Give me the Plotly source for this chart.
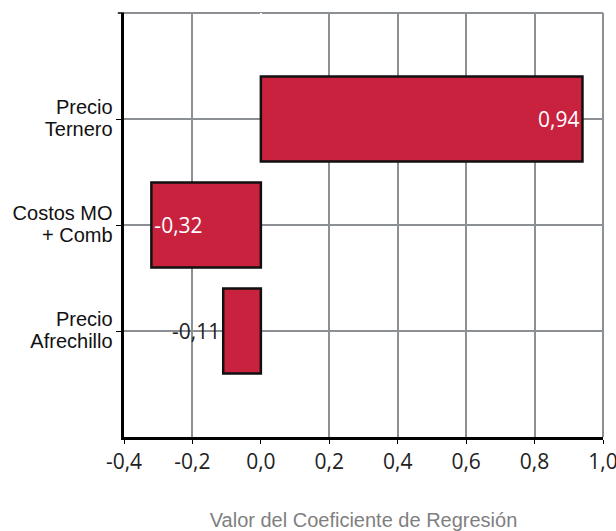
import plotly.graph_objects as go

# Regression coefficients (Spanish labels, comma decimals)
categories = [["Precio", "Ternero"], ["Costos MO", "+ Comb"], ["Precio", "Afrechillo"]]
coefficients = [0.94, -0.32, -0.11]
label_positions = ["inside", "inside", "outside"]
x_ticks = [-0.4, -0.2, 0.0, 0.2, 0.4, 0.6, 0.8, 1.0]

bar_color = "#C8223F"
grid_color = "#8c8f93"


def fmt(v, decimals):
    return f"{v:.{decimals}f}".replace(".", ",")


# larger glyphs, tight line spacing (spacing follows the base font size)
cat_labels = ["<br>".join(f"<span style='font-size:20px'>{part}</span>" for part in c)
              for c in categories]

fig = go.Figure()

fig.add_trace(go.Bar(
    y=cat_labels,
    x=coefficients,
    orientation="h",
    marker=dict(color=bar_color, line=dict(color="#111111", width=2.5)),
    text=[fmt(v, 2) for v in coefficients],
    textposition=label_positions,
    insidetextanchor="end",
    insidetextfont=dict(color="white", size=21, family="Open Sans"),
    outsidetextfont=dict(color="#222222", size=21, family="Open Sans"),
    cliponaxis=False,
    hoverinfo="skip"
))

# dashed reference line at zero
fig.add_shape(type="line", xref="x", yref="paper", x0=0, x1=0, y0=0, y1=1,
              line=dict(color="black", width=1.2, dash="dash"), layer="below")
# grey top and right borders, small tick at the top-left corner
fig.add_shape(type="line", xref="paper", yref="paper", x0=0, x1=1, y0=1, y1=1,
              line=dict(color=grid_color, width=2), layer="below")
fig.add_shape(type="line", xref="paper", yref="paper", x0=1, x1=1, y0=0, y1=1,
              line=dict(color=grid_color, width=2), layer="below")
fig.add_shape(type="line", xref="paper", yref="paper", x0=-0.013, x1=0, y0=1, y1=1,
              line=dict(color="black", width=1.5), layer="above")

fig.update_layout(
    width=616,
    height=531,
    margin=dict(l=124, r=13, t=13, b=94),
    plot_bgcolor="white",
    paper_bgcolor="white",
    showlegend=False,
    bargap=0.2,
    xaxis=dict(
        range=[-0.4, 1.0],
        tickmode="array",
        tickvals=x_ticks,
        ticktext=[fmt(v, 1) for v in x_ticks],
        ticklabeloverflow="allow",
        showgrid=True,
        gridcolor=grid_color,
        gridwidth=2,
        zeroline=True,
        zerolinecolor="white",
        zerolinewidth=2,
        showline=True,
        linecolor="black",
        linewidth=3,
        ticks="outside",
        ticklen=4,
        tickcolor="black",
        tickfont=dict(family="Open Sans", size=21, color="#222222"),
        automargin=False,
        title=dict(text="Valor del Coeficiente de Regresión",
                   font=dict(family="Liberation Sans", size=20, color="#7f7f7f"),
                   standoff=45),
    ),
    yaxis=dict(
        range=[3, -1],
        showgrid=True,
        gridcolor=grid_color,
        gridwidth=2,
        showline=True,
        linecolor="black",
        linewidth=3,
        ticks="outside",
        ticklen=5,
        tickcolor="black",
        tickfont=dict(family="Liberation Sans", size=17, color="#111111"),
        automargin=False,
    ),
)

# drop the default page margin so the figure fills the window exactly
fig.write_html("out.html", config={"displayModeBar": False},
               post_script="document.body.style.margin = '0';")
